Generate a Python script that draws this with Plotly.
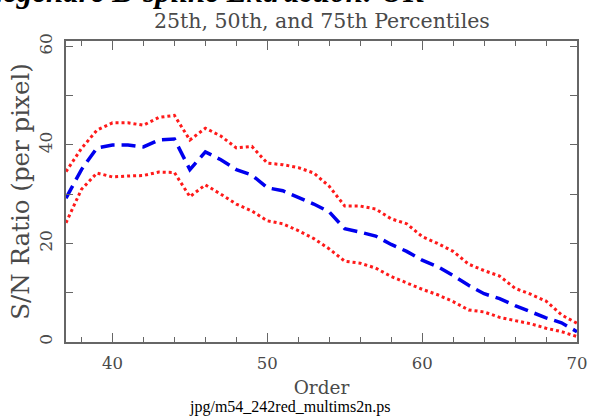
import plotly.graph_objects as go

orders = list(range(37, 71))
p75 = [34.6, 39.3, 43.0, 44.5, 44.5, 44.0, 45.6, 46.0, 41.0, 43.4, 41.8, 39.4, 39.7,
       36.3, 36.0, 35.4, 34.3, 31.6, 27.6, 27.6, 27.0, 25.0, 24.0, 21.4, 20.0, 18.4,
       15.8, 14.5, 13.4, 10.9, 9.7, 8.3, 5.5, 3.8]
p50 = [29.2, 35.0, 39.4, 40.0, 40.0, 39.6, 41.0, 41.2, 35.0, 38.6, 37.0, 35.0, 33.9,
       31.3, 30.7, 29.3, 28.0, 26.4, 23.0, 22.3, 21.5, 19.8, 18.4, 16.6, 15.3, 13.5,
       11.5, 9.8, 8.8, 7.4, 6.1, 4.9, 3.9, 2.1]
p25 = [24.2, 31.0, 34.3, 33.5, 33.7, 33.8, 34.5, 34.4, 29.5, 31.9, 30.0, 28.0, 26.6,
       24.6, 24.0, 22.6, 21.0, 18.9, 16.4, 16.0, 15.0, 13.3, 12.0, 10.7, 9.6, 8.2,
       6.5, 6.1, 5.0, 4.4, 3.7, 2.8, 2.1, 1.1]

x_ticks = [40, 50, 60, 70]
y_ticks = [0, 20, 40, 60]

title_text = "25th, 50th, and 75th Percentiles"
top_text = "Legendre B-spline Extraction: OK"
x_title = "Order"
y_title = "S/N Ratio (per pixel)"
footer = "jpg/m54_242red_multims2n.ps"

W, H = 590, 420
L, R, T, B = 66, 13, 41, 78
pw, ph = W - L - R, H - T - B

def px(x):
    return (x - L) / pw

def py(y):
    return (H - B - y) / ph

FONT = "DejaVu Serif"
axis_col = "#666666"
txt_col = "#4a4a4a"

fig = go.Figure()
red_dot = dict(color="#ff1a1a", width=3, dash="3px,3px")
fig.add_trace(go.Scatter(x=orders, y=p75, mode="lines", line=red_dot, showlegend=False))
fig.add_trace(go.Scatter(x=orders, y=p25, mode="lines", line=red_dot, showlegend=False))
fig.add_trace(go.Scatter(x=orders, y=p50, mode="lines",
                         line=dict(color="#0000ee", width=3.5, dash="14px,7px"),
                         showlegend=False))
# invisible trace so the mirrored tick-only axes (top/right) are drawn
fig.add_trace(go.Scatter(x=orders, y=p50, mode="lines", xaxis="x2", yaxis="y2",
                         line=dict(width=0), opacity=0, hoverinfo="skip",
                         showlegend=False))

common = dict(ticks="inside", tickwidth=1.2, tickcolor=axis_col, showgrid=False,
              zeroline=False, automargin=False)
fig.update_layout(
    width=W, height=H,
    margin=dict(l=L, r=R, t=T, b=B, pad=0, autoexpand=False),
    paper_bgcolor="white", plot_bgcolor="white",
    xaxis=dict(range=[37, 70], tickvals=x_ticks, ticklen=9, showline=True,
               linecolor=axis_col, linewidth=1.5, mirror=True, ticklabelstandoff=5,
               ticklabeloverflow="allow",
               minor=dict(dtick=2, tick0=0, ticks="inside", ticklen=5, tickcolor=axis_col,
                          tickwidth=1.2, showgrid=False),
               tickfont=dict(family=FONT, size=16.5, color=txt_col),
               title=dict(text=x_title, standoff=10,
                          font=dict(family=FONT, size=18.5, color=txt_col)),
               **common),
    yaxis=dict(range=[0, 61.1], tickvals=y_ticks, ticklen=7, showline=True,
               linecolor=axis_col, linewidth=1.5, mirror=True, tickangle=-90,
               ticklabelstandoff=5,
               minor=dict(dtick=10, tick0=0, ticks="inside", ticklen=7, tickcolor=axis_col,
                          tickwidth=1.2, showgrid=False),
               tickfont=dict(family=FONT, size=17, color=txt_col),
               title=dict(text=y_title, standoff=0,
                          font=dict(family=FONT, size=24.5, color=txt_col)),
               **common),
    xaxis2=dict(overlaying="x", matches="x", side="top", anchor="y", tickvals=x_ticks,
                ticklen=9, showticklabels=False,
                minor=dict(dtick=2, tick0=0, ticks="inside", ticklen=5, tickcolor=axis_col,
                           tickwidth=1.2, showgrid=False),
                **common),
    yaxis2=dict(overlaying="y", matches="y", side="right", anchor="x", tickvals=y_ticks,
                ticklen=7, showticklabels=False,
                minor=dict(dtick=10, tick0=0, ticks="inside", ticklen=7, tickcolor=axis_col,
                           tickwidth=1.2, showgrid=False),
                **common),
    annotations=[
        dict(text=title_text, xref="paper", yref="paper", x=px(322), y=py(21),
             xanchor="center", yanchor="middle", showarrow=False,
             font=dict(family=FONT, size=20.5, color=txt_col)),
        dict(text="<b><i>" + top_text + "</i></b>", xref="paper", yref="paper",
             x=px(-19), y=py(-9), xanchor="left", yanchor="middle", showarrow=False,
             font=dict(family="Liberation Serif", size=31, color="black")),
        dict(text=footer, xref="paper", yref="paper", x=px(289), y=py(407),
             xanchor="center", yanchor="middle", showarrow=False,
             font=dict(family="Liberation Serif", size=16, color="black")),
    ],
)

fig.write_html("out.html", config={"displayModeBar": False},
               post_script="document.body.style.margin='0';")
